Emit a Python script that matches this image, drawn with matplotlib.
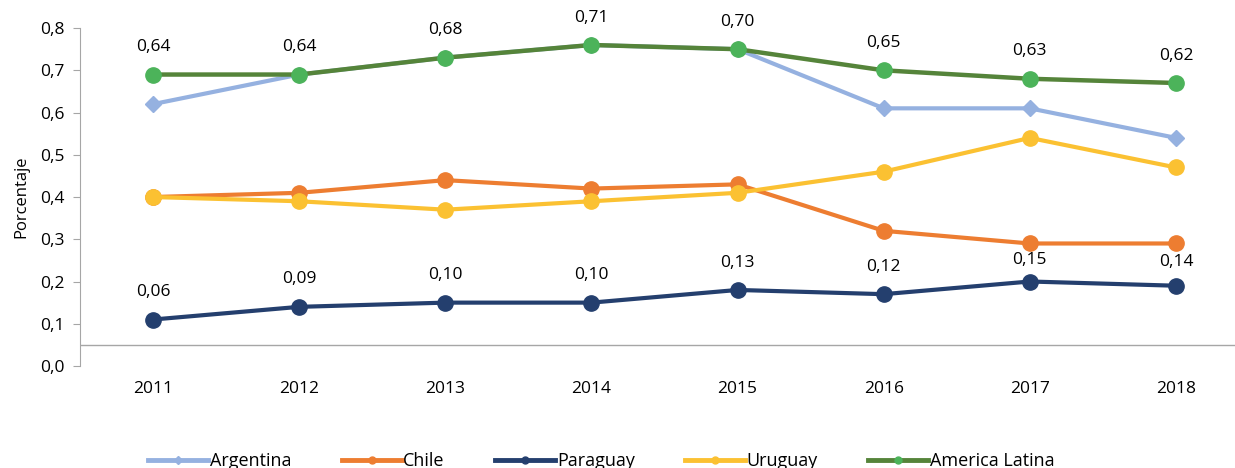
import matplotlib.pyplot as plt
from matplotlib.lines import Line2D

years = ["2011", "2012", "2013", "2014", "2015", "2016", "2017", "2018"]
argentina = [0.62, 0.69, 0.73, 0.76, 0.75, 0.61, 0.61, 0.54]
chile = [0.40, 0.41, 0.44, 0.42, 0.43, 0.32, 0.29, 0.29]
paraguay = [0.11, 0.14, 0.15, 0.15, 0.18, 0.17, 0.20, 0.19]
uruguay = [0.40, 0.39, 0.37, 0.39, 0.41, 0.46, 0.54, 0.47]
america_latina = [0.69, 0.69, 0.73, 0.76, 0.75, 0.70, 0.68, 0.67]
labels_al = ["0,64", "0,64", "0,68", "0,71", "0,70", "0,65", "0,63", "0,62"]
labels_py = ["0,06", "0,09", "0,10", "0,10", "0,13", "0,12", "0,15", "0,14"]
yticks = [0.0, 0.1, 0.2, 0.3, 0.4, 0.5, 0.6, 0.7, 0.8]

plt.rcParams['font.family'] = ['Open Sans', 'DejaVu Sans']
plt.rcParams['font.weight'] = 'medium'

fig = plt.figure(figsize=(12.35, 4.68), dpi=100)
ax = fig.add_axes([0.0648, 0.218, 1 - 0.0648, 0.722])

x = list(range(len(years)))

ax.plot(x, argentina, color="#95b1e0", lw=3, marker="D", ms=8, zorder=2)
ax.plot(x, chile, color="#ed7d31", lw=3, marker="o", ms=11, zorder=3)
ax.plot(x, paraguay, color="#243f6e", lw=3, marker="o", ms=11, zorder=4)
ax.plot(x, uruguay, color="#fbc132", lw=3, marker="o", ms=11, zorder=5)
ax.plot(x, america_latina, color="#55843a", lw=3.2, marker="o", ms=11,
        mfc="#4cb35a", mec="#4cb35a", zorder=6)

# label offsets (points above the marker)
py_off = [14, 14, 14, 14, 14, 14, 10, 11]
for i in x:
    ax.annotate(labels_al[i], (i, america_latina[i]), xytext=(0, 14),
                textcoords="offset points", ha="center", va="bottom", fontsize=12.5)
    ax.annotate(labels_py[i], (i, paraguay[i]), xytext=(0, py_off[i]),
                textcoords="offset points", ha="center", va="bottom", fontsize=12.5)

ax.set_xlim(-0.5, 7.404)
ax.set_ylim(0, 0.8)
ax.set_yticks(yticks)
ax.set_yticklabels([f"{v:.1f}".replace(".", ",") for v in yticks], fontsize=12.5)
ax.set_xticks(x)
ax.set_xticklabels(years, fontsize=12.5)
ax.tick_params(axis="x", length=0, pad=11)
ax.tick_params(axis="y", length=5, color="#a6a6a6", pad=6)
ax.set_ylabel("Porcentaje", fontsize=12, labelpad=8)

for s in ["top", "right", "bottom"]:
    ax.spines[s].set_visible(False)
ax.spines["left"].set_color("#a6a6a6")
ax.axhline(0.05, color="#a6a6a6", lw=1, zorder=1)

handles = [
    Line2D([], [], color="#95b1e0", lw=3.5, marker="D", ms=4),
    Line2D([], [], color="#ed7d31", lw=3.5, marker="o", ms=5),
    Line2D([], [], color="#243f6e", lw=3.5, marker="o", ms=5),
    Line2D([], [], color="#fbc132", lw=3.5, marker="o", ms=5),
    Line2D([], [], color="#55843a", lw=3.5, marker="o", ms=5, mfc="#4cb35a", mec="#4cb35a"),
]
names = ["Argentina", "Chile", "Paraguay", "Uruguay", "America Latina"]
fig.legend(handles, names, loc="center", bbox_to_anchor=(0.487, 0.014), ncol=5,
           frameon=False, fontsize=13, handlelength=3.3, handletextpad=0.1,
           columnspacing=2.8)

fig.savefig("out.png", dpi=100)
